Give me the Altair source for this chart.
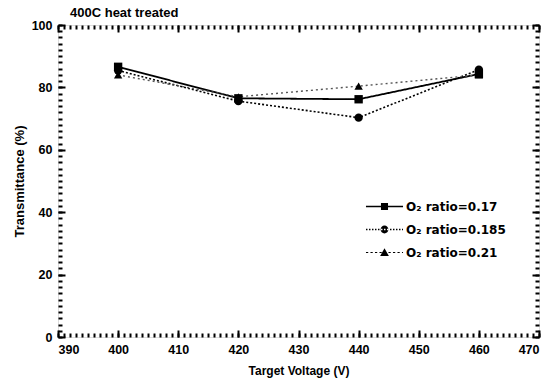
import altair as alt
import pandas as pd

# ---- data ----
voltage = [400, 420, 440, 460]
series_names = ["O₂ ratio=0.17", "O₂ ratio=0.185", "O₂ ratio=0.21"]
t_017 = [86.6, 76.5, 76.2, 84.3]
t_0185 = [85.4, 75.6, 70.3, 85.7]
t_021 = [84.0, 77.0, 80.4, 84.0]

x_major = [390, 400, 410, 420, 430, 440, 450, 460, 470]
x_minor = list(range(390, 471, 1))
y_major = [0, 20, 40, 60, 80, 100]
y_minor = list(range(0, 101, 2))

rows = []
for name, vals in zip(series_names, [t_017, t_0185, t_021]):
    for v, t in zip(voltage, vals):
        rows.append({"voltage": v, "trans": t, "series": name})
df = pd.DataFrame(rows)

# ---- layout ----
W, H = 481, 312
FONT = "Liberation Sans"

xs = alt.Scale(domain=[390, 470], nice=False, zero=False)
ys = alt.Scale(domain=[0, 100], nice=False, zero=False)


def tick_axis(orient, values, size, offset):
    return alt.Axis(orient=orient, values=values, labels=False, domain=False,
                    grid=False, ticks=True, tickSize=size, tickWidth=2,
                    tickColor="black", offset=offset, title=None)


base = alt.Chart(df)

main_x_axis = alt.Axis(orient="bottom", values=x_major, ticks=False, domain=False,
                       grid=False, labelFont=FONT, labelFontSize=12.5,
                       labelFontWeight="bold", labelColor="black", labelPadding=6,
                       title="Target Voltage (V)", titleFont=FONT, titleFontSize=12,
                       titleFontWeight="bold", titleColor="black", titlePadding=10)
main_y_axis = alt.Axis(orient="left", values=y_major, ticks=False, domain=False,
                       grid=False, labelFont=FONT, labelFontSize=12.5,
                       labelFontWeight="bold", labelColor="black", labelPadding=6,
                       title="Transmittance (%)", titleFont=FONT, titleFontSize=13,
                       titleFontWeight="bold", titleColor="black", titlePadding=5)

lines = base.mark_line().encode(
    x=alt.X("voltage:Q", scale=xs, axis=main_x_axis),
    y=alt.Y("trans:Q", scale=ys, axis=main_y_axis),
    detail="series:N",
    strokeDash=alt.StrokeDash("series:N", scale=alt.Scale(domain=series_names,
                              range=[[1, 0], [2, 2], [2, 3]]), legend=None),
    color=alt.Color("series:N", scale=alt.Scale(domain=series_names,
                    range=["black", "black", "#555555"]), legend=None),
    strokeWidth=alt.StrokeWidth("series:N", scale=alt.Scale(domain=series_names,
                                range=[1.8, 1.4, 1.0]), legend=None),
)

points = base.mark_point(filled=True, opacity=1, color="black", size=70).encode(
    x=alt.X("voltage:Q", scale=xs, axis=None),
    y=alt.Y("trans:Q", scale=ys, axis=None),
    shape=alt.Shape("series:N", scale=alt.Scale(domain=series_names,
                    range=["square", "circle", "triangle-up"]), legend=None),
)

# legend symbols: line style + marker, as filled custom paths (unit = 7.5 px)
HW = 2.47


def seg_path(dash, gap, half_h):
    parts = []
    x = -HW
    while x < HW:
        x2 = min(x + dash, HW)
        parts.append(f"M{x:.2f},{-half_h:.2f}H{x2:.2f}V{half_h:.2f}H{x:.2f}Z")
        x += dash + gap
    return "".join(parts)


sq = "M-0.47,-0.47H0.47V0.47H-0.47Z"
ci = "M-0.52,0A0.52,0.52 0 1,0 0.52,0A0.52,0.52 0 1,0 -0.52,0Z"
tr = "M0,-0.58L0.58,0.45H-0.58Z"
legend_paths = [
    seg_path(2 * HW, 0, 0.1) + sq,
    seg_path(0.2, 0.2, 0.09) + ci,
    seg_path(0.3, 0.3, 0.07) + tr,
]

legend_layer = base.transform_filter("false").mark_point(
    filled=True, color="black", opacity=1
).encode(
    x=alt.X("voltage:Q", scale=xs, axis=None),
    y=alt.Y("trans:Q", scale=ys, axis=None),
    shape=alt.Shape("series:N", scale=alt.Scale(domain=series_names, range=legend_paths),
                    legend=alt.Legend(orient="none", legendX=318, legendY=173, title=None,
                                      symbolSize=225, symbolFillColor="black",
                                      labelFont="DejaVu Sans", labelFontSize=12,
                                      labelFontWeight="bold", labelColor="black",
                                      labelOffset=13, rowPadding=7, padding=0)),
)


def tick_layer(xo, xv, xsz, yo, yv, ysz):
    return base.mark_point(opacity=0).encode(
        x=alt.X("voltage:Q", scale=xs, axis=tick_axis(xo, xv, xsz, -H)),
        y=alt.Y("trans:Q", scale=ys, axis=tick_axis(yo, yv, ysz, -W)),
    )


t1 = tick_layer("top", x_major, 7, "right", y_major, 7)
t2 = tick_layer("top", x_minor, 4, "right", y_minor, 4)
t3 = tick_layer("bottom", x_major, 7, "left", y_major, 7)
t4 = tick_layer("bottom", x_minor, 4, "left", y_minor, 4)

chart = alt.layer(lines, points, legend_layer, t1, t2, t3, t4).resolve_scale(
    shape="independent"
).resolve_axis(
    x="independent", y="independent"
).properties(
    width=W, height=H,
    autosize="none",
    padding={"left": 58, "top": 25, "right": 21, "bottom": 48},
    title=alt.TitleParams("400C heat treated", anchor="start", frame="group", dx=12,
                          offset=-1, font=FONT, fontSize=13, fontWeight="bold",
                          color="black"),
).configure_view(
    stroke="black", strokeWidth=2
).configure(background="white")

chart.save("out.html", embed_options={"renderer": "svg", "actions": False})
